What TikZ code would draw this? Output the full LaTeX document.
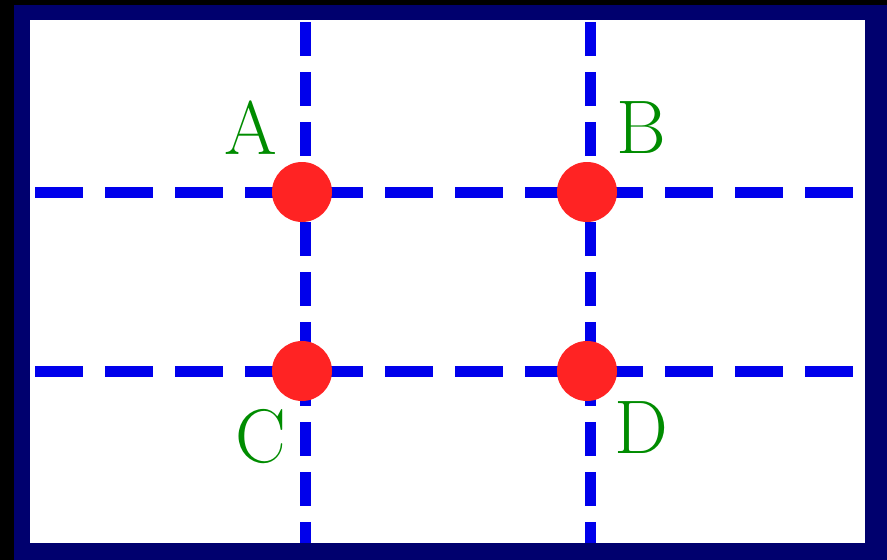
\documentclass[tikz,border=0pt]{standalone}
\usepackage{xcolor}
\usetikzlibrary{positioning}
\definecolor{frameblue}{RGB}{0,0,110}
\definecolor{gridblue}{RGB}{0,0,235}
\definecolor{dotred}{RGB}{255,35,35}
\definecolor{labelgreen}{RGB}{0,140,0}
\tikzset{
  gridline/.style={line width=11pt,gridblue},
  hdash/.style={gridline,dash pattern=on 48pt off 22pt},
  vdash/.style={gridline,dash pattern=on 34pt off 16pt},
  dot/.style={circle,fill=dotred,minimum size=60pt,inner sep=0pt},
  lab/.style={font=\fontsize{76}{76}\selectfont,text=labelgreen,inner sep=0pt}
}

\begin{document}
\begin{tikzpicture}[x=1pt,y=-1pt]
  \useasboundingbox (0,0) rectangle (887,560);
  \fill[black] (0,0) rectangle (887,560);
  \fill[frameblue] (14,5) rectangle (887,560);
  \fill[white] (30,20) rectangle (865,543);
  % grid lines
  \foreach \y/\n in {192/top,371/bot} {\coordinate (L\n) at (35,\y); \coordinate (R\n) at (862,\y); \draw[hdash] (L\n) -- (R\n);}
  \foreach \x/\n in {305/left,590/right} {\coordinate (T\n) at (\x,22); \coordinate (B\n) at (\x,543); \draw[vdash] (T\n) -- (B\n);}
  % points
  \node[dot] (A) at (302,192) {};
  \node[dot] (B) at (587,192) {};
  \node[dot] (C) at (302,371) {};
  \node[dot] (D) at (587,371) {};
  \node[lab] (labA) at (251,128) {A};
  \node[lab] (labB) at (641,128) {B};
  \node[lab] (labC) at (261,437) {C};
  \node[lab] (labD) at (641,428) {D};
\end{tikzpicture}
\end{document}
